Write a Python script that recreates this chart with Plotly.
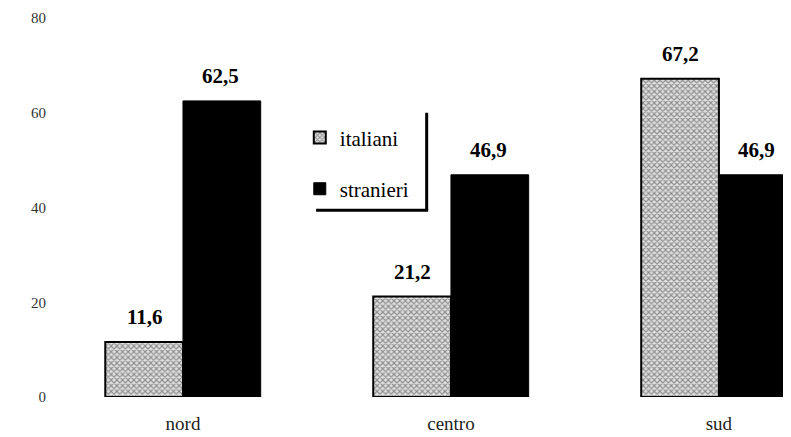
import plotly.graph_objects as go

# data
CATEGORIES = ["nord", "centro", "sud"]
ITALIANI = [11.6, 21.2, 67.2]
STRANIERI = [62.5, 46.9, 46.9]
Y_TICKS = [0, 20, 40, 60, 80]

SERIF = "Liberation Serif, Times New Roman, serif"

fig = go.Figure()
fig.add_trace(go.Bar(
    x=CATEGORIES, y=ITALIANI, name="italiani", legendgroup="it",
    marker=dict(color="#cccccc",
                line=dict(color="black", width=2),
                pattern=dict(shape="x", size=4, solidity=0.5,
                             fgcolor="#3a3a3a", bgcolor="#e2e2e2")),
))
fig.add_trace(go.Bar(
    x=CATEGORIES, y=STRANIERI, name="stranieri", legendgroup="st",
    marker=dict(color="black", line=dict(color="black", width=1)),
))

# value labels above each bar (comma decimals, as in the original)
for vals, shift in ((ITALIANI, -38), (STRANIERI, 38)):
    for cat, v in zip(CATEGORIES, vals):
        fig.add_annotation(x=cat, y=v, xref="x", yref="y",
                           text=f"{v:.1f}".replace(".", ","),
                           showarrow=False, xshift=shift, yshift=11,
                           yanchor="bottom",
                           font=dict(family=SERIF, size=21, color="black",
                                     weight="bold"))

# the legend's "shadow" border on the right and bottom
fig.add_shape(type="line", xref="paper", yref="paper",
              x0=0.509, x1=0.509, y0=0.493, y1=0.75,
              line=dict(color="black", width=3))
fig.add_shape(type="line", xref="paper", yref="paper",
              x0=0.36, x1=0.511, y0=0.493, y1=0.493,
              line=dict(color="black", width=3))

fig.update_layout(
    width=791, height=437,
    margin=dict(l=41, r=8, t=10, b=48),
    paper_bgcolor="white", plot_bgcolor="white",
    barmode="group", bargap=0.42, bargroupgap=0,
    font=dict(family=SERIF, size=14, color="#222222"),
    showlegend=True,
    legend=dict(x=0.338, y=0.738, xanchor="left", yanchor="top",
                bgcolor="rgba(0,0,0,0)", tracegroupgap=21,
                traceorder="grouped",
                font=dict(family=SERIF, size=21, color="black")),
)
fig.update_xaxes(range=[-0.5, 2.269], showgrid=False, showline=False,
                 ticks="", automargin=False, ticklabelstandoff=13,
                 tickfont=dict(size=19, color="#222222"))
fig.update_yaxes(range=[0, 80], tickvals=Y_TICKS, showgrid=False,
                 showline=False, zeroline=False, ticks="",
                 automargin=False, ticklabelstandoff=2,
                 tickfont=dict(size=15, color="#333333"))

fig.write_html("out.html")
